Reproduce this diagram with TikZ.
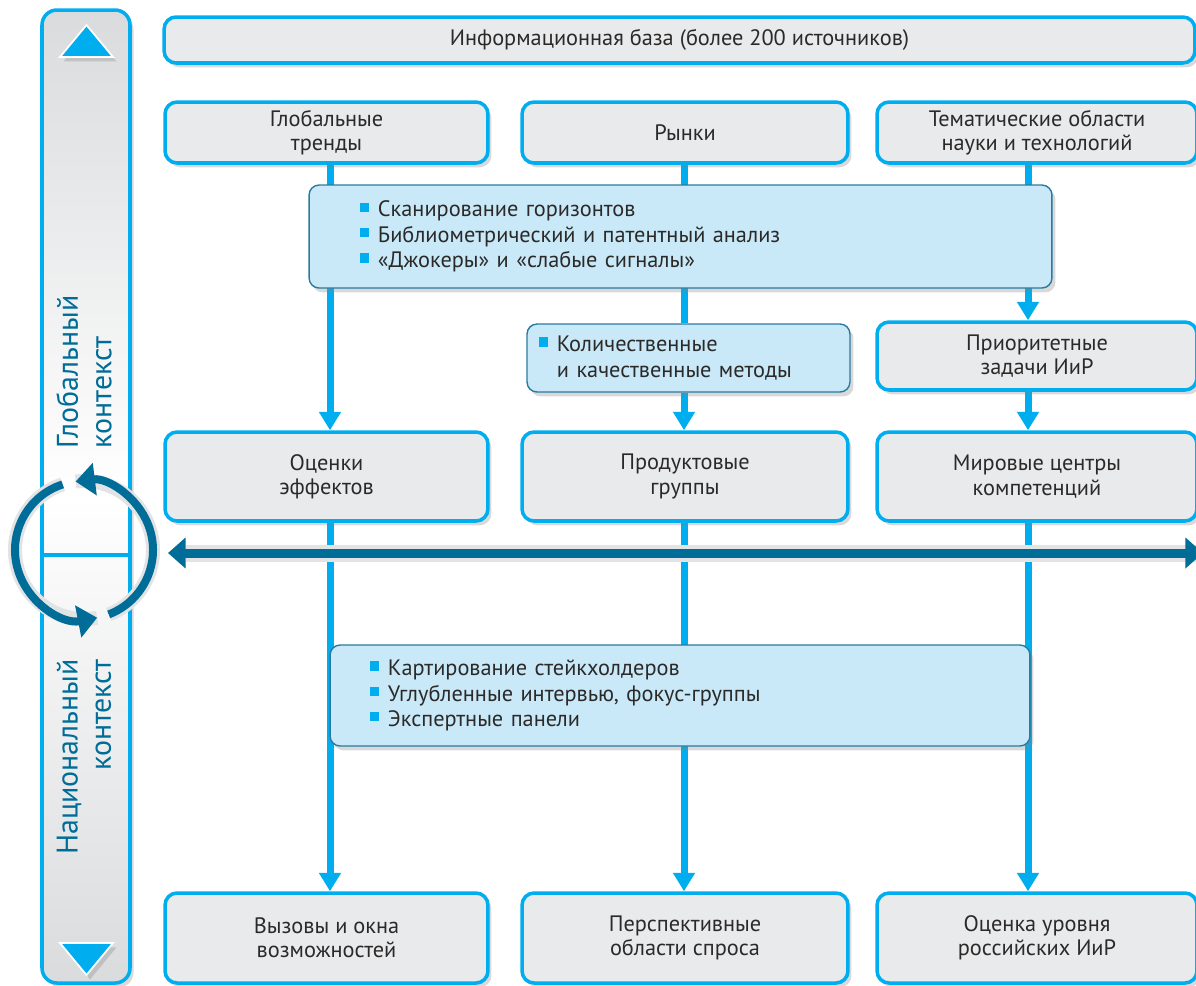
\documentclass[tikz,border=0pt]{standalone}
\usepackage{fontspec}
\setmainfont{PT Sans}
\usetikzlibrary{arrows.meta,shadows,backgrounds}
\definecolor{cyanline}{HTML}{00AEEF}
\definecolor{boxgray}{HTML}{E9EAEC}
\definecolor{methfill}{HTML}{C9E9F8}
\definecolor{methedge}{HTML}{2A7BA0}
\definecolor{darkteal}{HTML}{006C98}
\definecolor{halo}{HTML}{E2E3E5}
\definecolor{inktext}{HTML}{2B2A29}
\definecolor{barshade}{HTML}{DADBDD}
\newcommand{\sqbul}{\textcolor{cyanline}{\rule[2.9pt]{5.2pt}{5.2pt}}\hspace{5pt}}
\begin{document}
\begin{tikzpicture}[x=0.02cm,y=-0.02cm,font=\fontsize{12.7}{13.8}\selectfont,text=inktext,
    softshadow/.style={drop shadow={shadow xshift=2pt,shadow yshift=-2.5pt,opacity=0.3}},
    grbox/.style={draw=cyanline,line width=2pt,fill=boxgray,rounded corners=0.24cm,align=center,inner sep=0pt,softshadow},
    methbox/.style={draw=methedge,line width=0.8pt,fill=methfill,rounded corners=0.2cm,align=left,inner ysep=0pt,
        font=\fontsize{12.7}{14.5}\selectfont,softshadow},
    flow/.style={cyanline,line width=0.14cm},
    tip/.style={-{Triangle[length=10.5pt,width=12pt]}},
    vlabel/.style={rotate=90,text=darkteal,font=\fontsize{17}{19}\selectfont}]
    \useasboundingbox (0,0) rectangle (1196,985);
    \clip (0,0) rectangle (1196,985);
    % left bar
    \path[draw=cyanline,line width=2pt,rounded corners=0.3cm,top color=barshade,bottom color=barshade,middle color=white,softshadow] (42,10) rectangle (130,983);
    \draw[cyanline,line width=2pt] (42,555) -- (130,555);
    \draw[white,line width=1pt,fill=cyanline,softshadow] (60,57) -- (113,57) -- (86.5,25) -- cycle;
    \draw[white,line width=1pt,fill=cyanline,softshadow] (60,943) -- (113,943) -- (86.5,975) -- cycle;
    \node[vlabel,align=left] (glab) at (84,372) {Глобальный\\контекст};
    \node[vlabel,align=right] (nlab) at (84,757) {Национальный\\контекст};
    % boxes
    \node[grbox,minimum width=20.62cm,minimum height=0.92cm] (info) at (679.5,40) {Информационная база (более 200 источников)};
    \node[grbox,minimum width=6.46cm,minimum height=1.22cm] (glob) at (326.5,132.5) {Глобальные\\тренды};
    \node[grbox,minimum width=6.52cm,minimum height=1.22cm] (mark) at (685,132.5) {Рынки};
    \node[grbox,minimum width=6.4cm,minimum height=1.22cm] (tem) at (1037,132.5) {Тематические области\\науки и технологий};
    \node[methbox,text width=12.82cm,inner xsep=1.02cm,minimum height=2.06cm] (scan) at (680.5,236.5)
        {\sqbul Сканирование горизонтов\\\sqbul Библиометрический и патентный анализ\\\sqbul «Джокеры» и «слабые сигналы»};
    \node[methbox,text width=5.98cm,inner xsep=0.24cm,minimum height=1.36cm] (qm) at (688.5,358)
        {\sqbul Количественные\\\hphantom{\sqbul}и качественные методы};
    \node[grbox,minimum width=6.4cm,minimum height=1.36cm] (prio) at (1037,356) {Приоритетные\\задачи ИиР};
    \node[grbox,minimum width=6.46cm,minimum height=1.78cm] (eff) at (326.5,476.5) {Оценки\\эффектов};
    \node[grbox,minimum width=6.52cm,minimum height=1.78cm] (prod) at (685,476.5) {Продуктовые\\группы};
    \node[grbox,minimum width=6.4cm,minimum height=1.78cm] (world) at (1037,476.5) {Мировые центры\\компетенций};
    \node[methbox,text width=12.4cm,inner xsep=0.8cm,minimum height=2.02cm] (stake) at (680,695.5)
        {\sqbul Картирование стейкхолдеров\\\sqbul Углубленные интервью, фокус-группы\\\sqbul Экспертные панели};
    \node[grbox,minimum width=6.46cm,minimum height=1.8cm] (chal) at (326.5,938) {Вызовы и окна\\возможностей};
    \node[grbox,minimum width=6.52cm,minimum height=1.8cm] (dem) at (685,938) {Перспективные\\области спроса};
    \node[grbox,minimum width=6.4cm,minimum height=1.8cm] (rus) at (1037,938) {Оценка уровня\\российских ИиР};
    % flow lines
    \coordinate (c1) at (330,0);
    \coordinate (c2) at (684,0);
    \coordinate (c3) at (1028,0);
    \begin{scope}[on background layer]
        \draw[flow,tip] (glob.south-|c1) -- (eff.north-|c1);
        \draw[flow] (mark.south-|c2) -- (qm.north-|c2);
        \draw[flow,tip] (qm.south-|c2) -- (prod.north-|c2);
        \draw[flow,tip] (tem.south-|c3) -- (prio.north-|c3);
        \draw[flow,tip] (prio.south-|c3) -- (world.north-|c3);
        \draw[flow,tip] (eff.south-|c1) -- (chal.north-|c1);
        \draw[flow,tip] (prod.south-|c2) -- (dem.north-|c2);
        \draw[flow,tip] (world.south-|c3) -- (rus.north-|c3);
    \end{scope}
    % horizontal arrow
    \coordinate (hl) at (168,553);
    \coordinate (hr) at (1203,553);
    \draw[halo,line width=0.34cm,shorten <=10pt] (hl) -- (hr);
    \draw[darkteal,line width=0.18cm,{Triangle[length=10pt,width=17pt]}-{Triangle[length=10pt,width=17pt]}] (hl) -- (hr);
    % cycle
    \coordinate (cyc) at (84,550);
    \draw[halo,line width=0.28cm] (cyc) ++(-108:69) arc[start angle=-108,end angle=-281,radius=69];
    \draw[halo,line width=0.28cm] (cyc) ++(69:69) arc[start angle=69,end angle=-97,radius=69];
    \draw[darkteal,line width=0.16cm,-{Triangle[length=11pt,width=18pt]}] (cyc) ++(-108:69) arc[start angle=-108,end angle=-281,radius=69];
    \draw[darkteal,line width=0.16cm,-{Triangle[length=11pt,width=18pt]}] (cyc) ++(69:69) arc[start angle=69,end angle=-97,radius=69];
\end{tikzpicture}
\end{document}
